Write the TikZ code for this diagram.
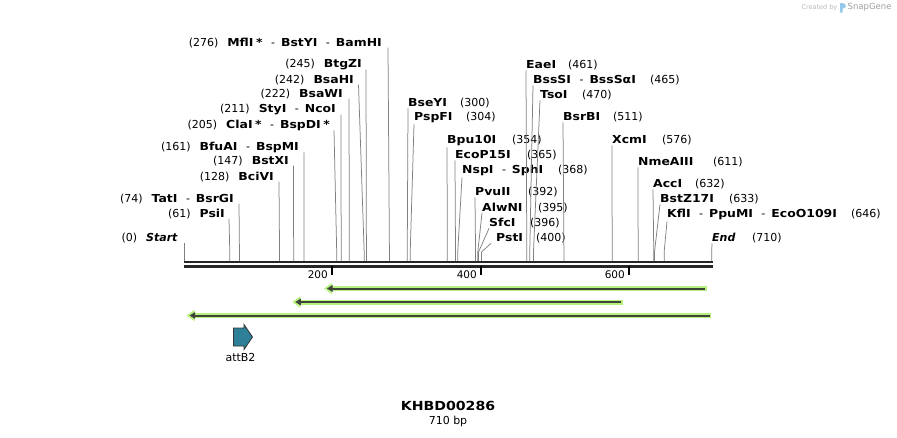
\documentclass[tikz,border=0pt]{standalone}
\usepackage{fontspec}
\setmainfont{DejaVu Sans}[BoldFeatures={FakeStretch=1.13}]
\usepackage{tikz}
\usetikzlibrary{arrows.meta,positioning}
\definecolor{glowgreen}{RGB}{184,240,128}
\definecolor{featdark}{RGB}{62,68,58}
\definecolor{attteal}{RGB}{46,128,152}
\definecolor{cutgray}{RGB}{128,128,128}
\definecolor{snapblue}{RGB}{150,200,235}
\newcommand{\ename}[1]{\textbf{#1}}
\newcommand{\esep}{\hspace{8.5pt}-\hspace{6pt}}
\newcommand{\estar}{\hspace{2.5pt}\textbf{*}}
\tikzstyle{enzyme}=[
	inner sep=0pt,
	font=\fontsize{11}{13}\selectfont
]
\tikzstyle{enzL}=[enzyme, anchor=base east]
\tikzstyle{enzR}=[enzyme, anchor=base west]
\tikzstyle{cutline}=[
	draw=cutgray,
	line width=0.75pt,
	to path={-- ([yshift=9pt]\tikztotarget) -- (\tikztotarget)}
]
\tikzstyle{seqline}=[line width=2.4pt, black!85]
\tikzstyle{glow}=[draw=glowgreen, line width=5pt, -{Triangle[length=8pt,width=11pt]}]
\tikzstyle{featarrow}=[draw=featdark, line width=2pt, -{Triangle[length=5.5pt,width=6.5pt]}]
\tikzstyle{feature}=[draw=black!80, fill=attteal, line width=0.8pt, line join=miter]

\begin{document}
\begin{tikzpicture}[x=1pt,y=-1pt]
\useasboundingbox (0,0) rectangle (897,437);

% cut sites on the sequence
\foreach \p in {0,61,74,128,147,161,205,211,222,242,245,276,300,304,354,365,368,392,395,396,400,461,465,470,511,576,611,632,633,646,710}
	\coordinate (c\p) at ({184.5+0.7425*\p},261);

% sequence
\coordinate (seqA) at (184,262);
\coordinate (seqB) at (712.5,262);
\draw[seqline] (seqA) -- (seqB);
\draw[seqline] ([yshift=-4.5pt]seqA) -- ([yshift=-4.5pt]seqB);
\foreach \t/\x in {200/332,400/481,600/629}{
	\draw[line width=1.3pt] (\x,266) -- (\x,274.5);
	\node[anchor=east, inner sep=0pt, font=\fontsize{10.5}{12}\selectfont] (tick\t) at (\x-4,274.5) {\t};
}

% enzymes left of their lines
\node[enzL] (Start) at (178,241) {(0)\hspace{9pt}\textbf{\textit{Start}}};
\node[enzL] (PsiI) at (225,217) {(61)\hspace{9pt}\ename{PsiI}};
\node[enzL] (TatI) at (234,202) {(74)\hspace{9pt}\ename{TatI}\esep\ename{BsrGI}};
\node[enzL] (BciVI) at (274,180) {(128)\hspace{9pt}\ename{BciVI}};
\node[enzL] (BstXI) at (289,164) {(147)\hspace{9pt}\ename{BstXI}};
\node[enzL] (BfuAI) at (299,150) {(161)\hspace{9pt}\ename{BfuAI}\esep\ename{BspMI}};
\node[enzL] (ClaI) at (330,128) {(205)\hspace{9pt}\ename{ClaI}\estar\esep\ename{BspDI}\estar};
\node[enzL] (StyI) at (336,112) {(211)\hspace{9pt}\ename{StyI}\esep\ename{NcoI}};
\node[enzL] (BsaWI) at (343,97) {(222)\hspace{9pt}\ename{BsaWI}};
\node[enzL] (BsaHI) at (354,83) {(242)\hspace{9pt}\ename{BsaHI}};
\node[enzL] (BtgZI) at (362,67) {(245)\hspace{9pt}\ename{BtgZI}};
\node[enzL] (MflI) at (382,46) {(276)\hspace{9pt}\ename{MflI}\estar\esep\ename{BstYI}\esep\ename{BamHI}};

% enzymes right of their lines
\node[enzR] (BseYI) at (408,106) {\ename{BseYI}};
\node[enzR] (PspFI) at (414,120) {\ename{PspFI}};
\node[enzR] (Bpu10I) at (447,143) {\ename{Bpu10I}};
\node[enzR] (EcoP15I) at (455,158) {\ename{EcoP15I}};
\node[enzR] (NspI) at (462,173) {\ename{NspI}\esep\ename{SphI}};
\node[enzR] (PvuII) at (475,195) {\ename{PvuII}};
\node[enzR] (AlwNI) at (482,211) {\ename{AlwNI}};
\node[enzR] (SfcI) at (489,226) {\ename{SfcI}};
\node[enzR] (PstI) at (496,241) {\ename{PstI}};
\node[enzR] (EaeI) at (526,68) {\ename{EaeI}};
\node[enzR] (BssSI) at (533,83) {\ename{BssSI}\esep\ename{BssSαI}};
\node[enzR] (TsoI) at (540,98) {\ename{TsoI}};
\node[enzR] (BsrBI) at (563,120) {\ename{BsrBI}};
\node[enzR] (XcmI) at (612,143) {\ename{XcmI}};
\node[enzR] (NmeAIII) at (638,165) {\ename{NmeAIII}};
\node[enzR] (AccI) at (653,187) {\ename{AccI}};
\node[enzR] (BstZ17I) at (660,202) {\ename{BstZ17I}};
\node[enzR] (KflI) at (667,217) {\ename{KflI}\esep\ename{PpuMI}\esep\ename{EcoO109I}};
\node[enzR] (End) at (712,241) {\textbf{\textit{End}}};

% their positions
\node[enzR] (n300) at (460,106) {(300)};
\node[enzR] (n304) at (466,120) {(304)};
\node[enzR] (n354) at (512,143) {(354)};
\node[enzR] (n365) at (527,158) {(365)};
\node[enzR] (n368) at (558,173) {(368)};
\node[enzR] (n392) at (528,195) {(392)};
\node[enzR] (n395) at (538,211) {(395)};
\node[enzR] (n396) at (530,226) {(396)};
\node[enzR] (n400) at (536,241) {(400)};
\node[enzR] (n461) at (568,68) {(461)};
\node[enzR] (n465) at (650,83) {(465)};
\node[enzR] (n470) at (582,98) {(470)};
\node[enzR] (n511) at (613,120) {(511)};
\node[enzR] (n576) at (662,143) {(576)};
\node[enzR] (n611) at (713,165) {(611)};
\node[enzR] (n632) at (695,187) {(632)};
\node[enzR] (n633) at (729,202) {(633)};
\node[enzR] (n646) at (851,217) {(646)};
\node[enzR] (n710) at (752,241) {(710)};

% lines down to the cut sites
\draw[cutline] ([xshift=6.5pt]Start.south east) to (c0);
\draw[cutline] ([xshift=4pt]PsiI.south east) to (c61);
\draw[cutline] ([xshift=5pt]TatI.south east) to (c74);
\draw[cutline] ([xshift=5pt]BciVI.south east) to (c128);
\draw[cutline] ([xshift=4.5pt]BstXI.south east) to (c147);
\draw[cutline] ([xshift=5pt]BfuAI.south east) to (c161);
\draw[cutline] ([xshift=4pt]ClaI.south east) to (c205);
\draw[cutline] ([xshift=5pt]StyI.south east) to (c211);
\draw[cutline] ([xshift=6pt]BsaWI.south east) to (c222);
\draw[cutline] ([xshift=4.5pt]BsaHI.south east) to (c242);
\draw[cutline] ([xshift=4pt]BtgZI.south east) to (c245);
\draw[cutline] ([xshift=6pt]MflI.south east) to (c276);
\draw[cutline] ([yshift=-2pt]BseYI.south west) to (c300);
\draw[cutline] ([yshift=-2pt]PspFI.south west) to (c304);
\draw[cutline] ([yshift=-2pt]Bpu10I.south west) to (c354);
\draw[cutline] ([yshift=-2pt]EcoP15I.south west) to (c365);
\draw[cutline] ([yshift=-2pt]NspI.south west) to (c368);
\draw[cutline] ([yshift=-2pt]PvuII.south west) to (c392);
\draw[cutline] ([yshift=-2pt]AlwNI.south west) to (c395);
\draw[cutline] ([yshift=-2pt]SfcI.south west) to (c396);
\draw[cutline] ([shift={(-5pt,-2pt)}]PstI.south west) to (c400);
\draw[cutline] ([yshift=-2pt]EaeI.south west) to (c461);
\draw[cutline] ([yshift=-2pt]BssSI.south west) to (c465);
\draw[cutline] ([yshift=-2pt]TsoI.south west) to (c470);
\draw[cutline] ([yshift=-2pt]BsrBI.south west) to (c511);
\draw[cutline] ([yshift=-2pt]XcmI.south west) to (c576);
\draw[cutline] ([yshift=-2pt]NmeAIII.south west) to (c611);
\draw[cutline] ([yshift=-2pt]AccI.south west) to (c632);
\draw[cutline] ([yshift=-2pt]BstZ17I.south west) to (c633);
\draw[cutline] ([yshift=-2pt]KflI.south west) to (c646);
\draw[cutline] ([yshift=-2pt]End.south west) to (c710);

% primers
\foreach \y/\a/\b in {288.5/327/705, 302/295.3/621.2, 315.5/189.6/709.5}{
	\draw[glow] (\b+1.8,\y) -- (\a-3,\y);
	\draw[featarrow] (\b,\y) -- (\a,\y);
}

% attB2
\coordinate (attB2) at (243,337);
\draw[feature] ([shift={(-9.5,9)}]attB2) -- ++(10.5,0) -- ++(0,3.5) -- ++(8.5,-12.5)
	-- ++(-8.5,-12.5) -- ++(0,3.5) -- ++(-10.5,0) -- cycle;
\node[enzyme, below=16pt of attB2, xshift=-2.5pt] (attB2lab) {attB2};

% title
\node[font=\bfseries\fontsize{12.5}{15}\selectfont] (title) at (448,406) {KHBD00286};
\node[font=\fontsize{11}{12}\selectfont] (size) at (448,421.5) {710 bp};

% stamp
\node[anchor=east, inner sep=0pt, text=black!28, font=\fontsize{6.5}{7}\selectfont] (created) at (837.5,7.5) {Created by};
\fill[snapblue] (840,12.5) rectangle (842.6,3) (842.6,3) -- (845.6,4.6) -- (845.6,7.2) -- (842.6,8.8) -- cycle;
\node[anchor=west, inner sep=0pt, text=black!38, font=\fontsize{8.5}{9}\selectfont] (snapgene) at (847.5,7.5) {SnapGene};
\end{tikzpicture}
\end{document}
